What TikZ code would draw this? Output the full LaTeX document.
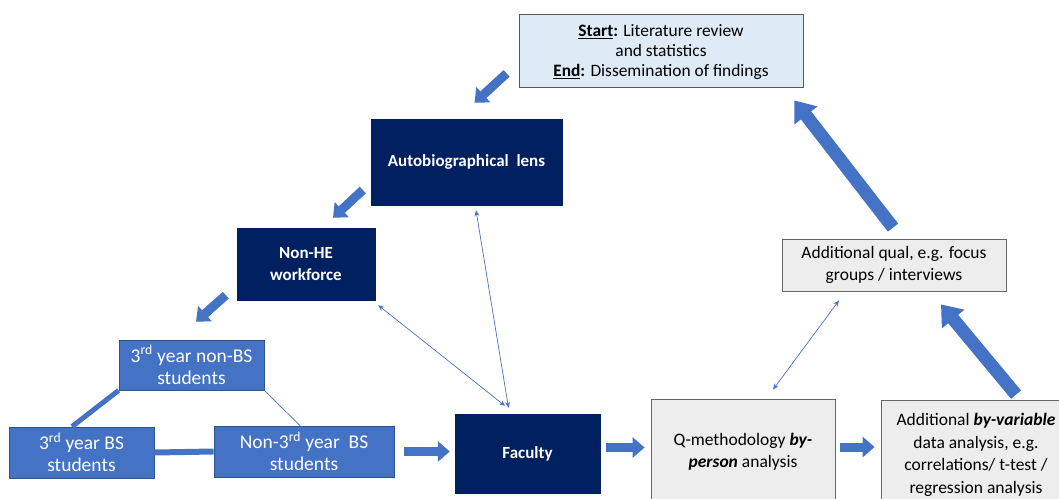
\documentclass[tikz,border=0pt]{standalone}
\usepackage{fontspec}
\setmainfont{Carlito}
\usepackage{tikz}
\usetikzlibrary{arrows.meta,positioning,calc}
\definecolor{navy}{HTML}{002060}
\definecolor{midblue}{HTML}{4472C4}
\definecolor{edgeblue}{HTML}{2F528F}
\definecolor{paleblue}{HTML}{DEEBF7}
\definecolor{lightgrey}{HTML}{EDEDED}

\begin{document}
\begin{tikzpicture}[
    x=1pt, y=-1pt,
    navybox/.style={fill=navy, draw=navy, text=white, align=center, font=\fontsize{17}{21.5}\selectfont\bfseries, inner sep=0pt},
    studbox/.style={fill=midblue, draw=edgeblue, line width=0.8pt, text=white, align=center, font=\fontsize{19.5}{22}\selectfont, inner sep=0pt},
    greybox/.style={fill=lightgrey, draw=black!60, line width=0.8pt, align=center, font=\fontsize{17.5}{22.5}\selectfont, inner sep=0pt},
    startbox/.style={fill=paleblue, draw=black!65, line width=0.8pt, align=center, font=\fontsize{17.4}{20}\selectfont, inner sep=0pt},
    blockarrow/.style={draw=midblue, line width=9pt, -{Triangle[width=20pt, length=12pt]}},
    bigarrow/.style={draw=midblue, line width=13pt, -{Triangle[width=28pt, length=19pt]}},
    thinarrow/.style={draw=midblue, line width=0.7pt, {Stealth[length=6pt, width=5pt]}-{Stealth[length=6pt, width=5pt]}},
    link/.style={draw=midblue}
]
\clip (0,0) rectangle (1059,498);

% boxes
\node[startbox, minimum width=284, minimum height=73, text depth=-2pt] (start) at (661,50.5)
    {\underline{\textbf{Start}}\textbf{:} Literature review\\and statistics\\\underline{\textbf{End}}\textbf{:} Dissemination of findings};
\node[navybox, minimum width=191, minimum height=86] (autobio) at (466.5,162) {Autobiographical\ \ lens};
\node[navybox, minimum width=138, minimum height=72] (nonhe) at (306,264) {Non-HE\\workforce};
\node[studbox, minimum width=145, minimum height=50] (nonbs) at (191.5,365) {3\textsuperscript{rd} year non-BS\\students};
\node[studbox, minimum width=145, minimum height=51] (bs) at (81.5,452.5) {3\textsuperscript{rd} year BS\\students};
\node[studbox, minimum width=180, minimum height=51] (nonthird) at (304,451.5) {Non-3\textsuperscript{rd} year\ \ BS\\students};
\node[navybox, minimum width=145, minimum height=79] (faculty) at (527.5,453.5) {Faculty};
\node[greybox, minimum width=184, minimum height=106] (qmeth) at (743,452) {Q-methodology \textbf{\textit{by-}}\\\textbf{\textit{person}} analysis};
\node[greybox, minimum width=190, minimum height=110] (byvar) at (976,455) {Additional \textbf{\textit{by-variable}}\\data analysis, e.g.\\correlations/ t-test /\\regression\ analysis};
\node[greybox, minimum width=224, minimum height=52] (qual) at (894,265) {Additional qual, e.g. focus\\groups / interviews};

% links between student groups
\draw[link, line width=5pt] (nonbs.south west) -- ([shift={(-9.5,0)}]bs.north);
\draw[link, line width=6pt] (bs.east) -- (nonthird.west);
\draw[link, line width=0.7pt] (nonbs.south east) -- ([shift={(-4,0)}]nonthird.north);

% block arrows
\draw[blockarrow] ([shift={(-12,-14)}]start.south west) -- ([shift={(8,-16)}]autobio.north);
\draw[blockarrow] ([shift={(-8,28)}]autobio.west) -- ([shift={(27,-10)}]nonhe.north);
\draw[blockarrow] ([shift={(-11,-5)}]nonhe.south west) -- ([shift={(4.5,-18)}]nonbs.north);
\draw[blockarrow] ([xshift=10pt]nonthird.east) -- ([xshift=-5pt]nonthird.east -| faculty.west);
\draw[blockarrow] ([shift={(6,-6)}]faculty.east) -- ([shift={(-6,-6)}]faculty.east -| qmeth.west);
\draw[blockarrow] ([shift={(5,-5)}]qmeth.east) -- ([shift={(-6,-5)}]qmeth.east -| byvar.west);
\draw[bigarrow] ([shift={(40,-5)}]byvar.north) -- ([shift={(47,13)}]qual.south);
\draw[bigarrow] ([shift={(-1,-11)}]qual.north) -- ([shift={(-9,13)}]start.south east);

% thin two-way arrows
\draw[thinarrow] ([shift={(-19,-6)}]faculty.north) -- ([shift={(9.5,5)}]autobio.south);
\draw[thinarrow] ([shift={(-22.5,-8)}]faculty.north) -- ([shift={(3,5)}]nonhe.south east);
\draw[thinarrow] ([shift={(30,-9)}]qmeth.north) -- ([shift={(-55,9)}]qual.south);

\end{tikzpicture}
\end{document}
